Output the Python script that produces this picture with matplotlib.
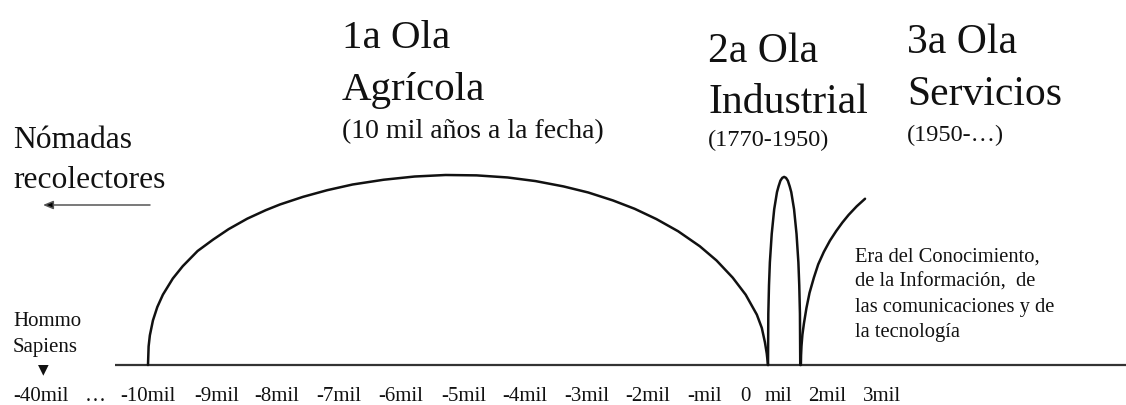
import matplotlib.pyplot as plt

plt.rcParams['font.family'] = ['Liberation Serif', 'DejaVu Serif']

# Curves: x in thousand years, y in % of the agricultural peak
agri_x = [-10.0, -9.99, -9.97, -9.92, -9.85, -9.76, -9.6, -9.44, -9.2, -8.95,
          -8.7, -8.4, -8.1, -7.87, -7.5, -7.11, -6.7, -6.2, -5.7, -5.2,
          -4.7, -4.2, -3.75, -3.3, -2.9, -2.5, -2.15, -1.8, -1.45, -1.1,
          -0.83, -0.57, -0.36, -0.18, -0.1, -0.05, -0.02, 0.0]
agri_y = [0, 9.8, 15.6, 23.5, 30.5, 37, 45.5, 52, 60, 66,
          71.5, 77, 81.5, 84.5, 88.5, 92, 95, 97.5, 99.2, 100,
          99.8, 98.7, 96.8, 94, 90.8, 86.6, 82.2, 76.8, 70.4, 62.5,
          55, 46, 37, 26.5, 19.5, 12, 6, 0]

ind_x = [0.0, 0.005, 0.016, 0.03, 0.06, 0.10, 0.125, 0.145, 0.17, 0.2, 0.23,
         0.26, 0.29, 0.32, 0.35, 0.375, 0.395, 0.42, 0.46, 0.49, 0.504, 0.515, 0.52]
ind_y = [0, 27, 42, 54, 69, 82, 87, 91, 94, 97, 98.5,
         99, 98.5, 97, 94, 91, 87, 82, 69, 54, 42, 27, 0]

serv_x = [0.53, 0.533, 0.54, 0.555, 0.58, 0.62, 0.67, 0.74, 0.81, 0.9,
          1.0, 1.1, 1.2, 1.3, 1.43, 1.565]
serv_y = [0, 5, 10, 16, 22, 30, 38, 46, 53, 59.5,
          65.5, 70.5, 75, 79, 83.5, 87.5]

tick_labels = ['-40mil', '…', '-10mil', '-9mil', '-8mil', '-7mil', '-6mil', '-5mil',
               '-4mil', '-3mil', '-2mil', '-mil', '0', 'mil', '2mil', '3mil']
# where each label sits under the line (the spacing is not to scale)
tick_pos = [-11.73, -10.85, -10.0, -8.90, -7.92, -6.92, -5.92, -4.90,
            -3.92, -2.92, -1.94, -1.03, -0.37, 0.16, 0.95, 1.84]

W, H = 1126, 405
fig = plt.figure(figsize=(W / 100, H / 100), dpi=100)
ax = fig.add_axes([0, 0, 1, 1])
ax.set_xlim(-12.387, 5.774)
ax.set_ylim(-21.05, 192.1)
ax.axis('off')

ink = '#111111'

# time line
ax.hlines(0, -10.53, 5.774, color='#333333', lw=1.6)

# the three waves
for xs, ys in [(agri_x, agri_y), (ind_x, ind_y), (serv_x, serv_y)]:
    ax.plot(xs, ys, color=ink, lw=1.8, solid_capstyle='round', solid_joinstyle='round')

for pos, lab in zip(tick_pos, tick_labels):
    ax.text(pos, -19.0, lab, ha='center', va='baseline', fontsize=15, color=ink)


def ftext(x, y, s, **kw):
    # x, y in pixels from the top-left corner, y is the text baseline
    fig.text(x / W, 1 - y / H, s, va='baseline', color=ink, **kw)


ftext(342, 48, '1a Ola', fontsize=29.5)
ftext(342, 100, 'Agrícola', fontsize=29.5)
ftext(342, 138, '(10 mil años a la fecha)', fontsize=20)

ftext(708, 62, '2a Ola', fontsize=30)
ftext(708, 113, 'Industrial', fontsize=30)
ftext(708, 146, '(1770-1950)', fontsize=17.5)

ftext(907, 53, '3a Ola', fontsize=30)
ftext(907, 105, 'Servicios', fontsize=30)
ftext(907, 141, '(1950-…)', fontsize=17.5)

ftext(13, 148, 'Nómadas', fontsize=22.7)
ftext(13, 188, 'recolectores', fontsize=22.7)

era = ['Era del Conocimiento,', 'de la Información,  de',
       'las comunicaciones y de', 'la tecnología']
for i, line in enumerate(era):
    ftext(855, 262 + 25 * i, line, fontsize=14.8)

ftext(13, 326, 'Hommo', fontsize=15)
ftext(13, 352, 'Sapiens', fontsize=15)
fig.text(43 / W, 1 - 369 / H, '▼', ha='center', va='center', fontsize=10,
         color=ink, family='DejaVu Sans')

ax.annotate('', xy=(43, H - 205), xytext=(150, H - 205),
            xycoords='figure pixels', textcoords='figure pixels',
            arrowprops=dict(arrowstyle='-|>,head_length=0.6,head_width=0.25',
                            color='#555555', lw=1.1, shrinkA=0, shrinkB=0,
                            fc='black', ec='#555555'))

fig.savefig('out.png', dpi=100, facecolor='white')
